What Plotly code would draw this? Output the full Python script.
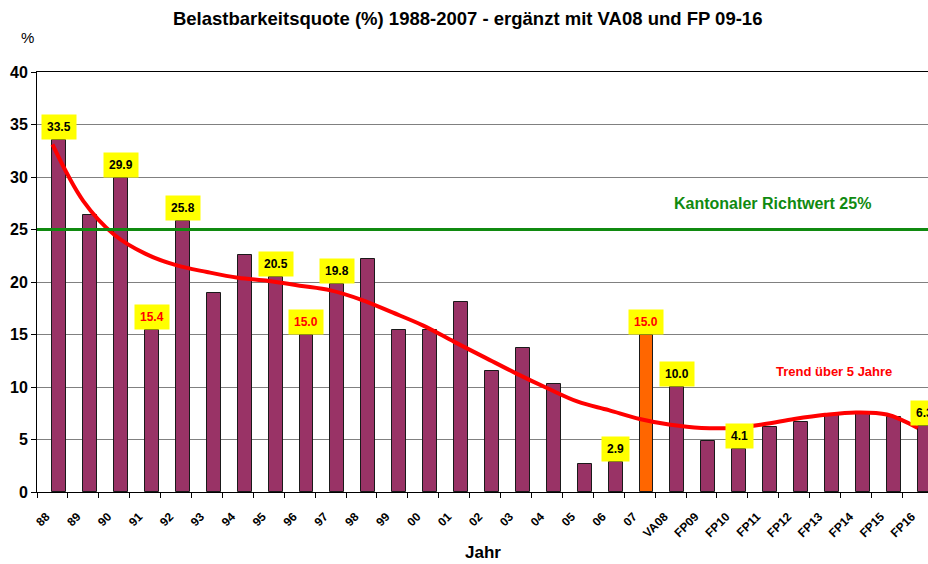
import plotly.graph_objects as go

# ---- data ----
categories = ['88', '89', '90', '91', '92', '93', '94', '95', '96', '97',
              '98', '99', '00', '01', '02', '03', '04', '05', '06', '07',
              'VA08', 'FP09', 'FP10', 'FP11', 'FP12', 'FP13', 'FP14', 'FP15', 'FP16']
values = [33.5, 26.4, 29.9, 15.4, 25.8, 19.0, 22.6, 20.5, 15.0, 19.8,
          22.2, 15.4, 15.4, 18.1, 11.5, 13.7, 10.3, 2.7, 2.9, 15.0,
          10.0, 4.9, 4.1, 6.2, 6.7, 7.4, 7.6, 7.1, 6.3]
trend = [33.1, 27.7, 24.5, 22.7, 21.6, 20.95, 20.4, 20.1, 19.65, 19.2,
         18.3, 17.1, 15.85, 14.3, 12.8, 11.3, 9.9, 8.6, 7.8, 6.95,
         6.4, 6.1, 6.1, 6.45, 6.95, 7.35, 7.58, 7.38, 6.1]
highlight_cat = '07'
labelled_black = ['88', '90', '92', '95', '97', '06', 'VA08', 'FP10', 'FP16']
labelled_red = ['91', '96', '07']
richtwert = 25
title_text = 'Belastbarkeitsquote (%) 1988-2007 - ergänzt mit VA08 und FP 09-16'

# ---- style ----
PURPLE = '#993366'
ORANGE = '#FF6600'
FONT = 'Liberation Sans, Arial, sans-serif'
BAR_OFFSET = 0.72
TREND_OFFSET = 0.5
n = len(categories)
idx = list(range(n))

bar_x = [i + BAR_OFFSET for i in idx]
colors = [ORANGE if c == highlight_cat else PURPLE for c in categories]

fig = go.Figure()
fig.add_trace(go.Bar(
    x=bar_x, y=values, width=0.45,
    marker=dict(color=colors, line=dict(color='#1a1a1a', width=1)),
    showlegend=False, hoverinfo='skip'))

fig.add_trace(go.Scatter(
    x=[i + TREND_OFFSET for i in idx], y=trend, mode='lines',
    line=dict(color='#FF0000', width=4, shape='spline', smoothing=1.0),
    showlegend=False, hoverinfo='skip'))

fig.add_shape(type='line', xref='paper', x0=0, x1=1, yref='y', y0=richtwert, y1=richtwert,
              line=dict(color='#108A10', width=3), layer='above')

annotations = []
for i, c in enumerate(categories):
    if c in labelled_black or c in labelled_red:
        annotations.append(dict(
            x=bar_x[i], y=values[i], xref='x', yref='y',
            text='%.1f' % values[i], showarrow=False,
            xanchor='center', yanchor='bottom',
            bgcolor='#FFFF00', borderpad=5,
            font=dict(family=FONT, size=12, weight='bold',
                      color='#FF0000' if c in labelled_red else '#000000')))

annotations += [
    dict(x=23.8, y=27.5, xref='x', yref='y', text='Kantonaler Richtwert 25%',
         showarrow=False, font=dict(family=FONT, size=16, weight='bold', color='#108A10')),
    dict(x=25.8, y=11.5, xref='x', yref='y', text='Trend über 5 Jahre',
         showarrow=False, font=dict(family=FONT, size=13, weight='bold', color='#FF0000')),
    dict(x=0.5, y=-0.143, xref='paper', yref='paper', text='Jahr',
         showarrow=False, yanchor='middle',
         font=dict(family=FONT, size=17, weight='bold', color='#000000')),
    dict(x=-0.02, y=1.083, xref='paper', yref='paper', text='%',
         showarrow=False, yanchor='middle',
         font=dict(family=FONT, size=15, color='#000000')),
]

fig.update_layout(
    width=928, height=564,
    margin=dict(l=37, r=0, t=72, b=72, autoexpand=False),
    paper_bgcolor='white', plot_bgcolor='white',
    title=dict(text=title_text, x=0.504, xref='container', xanchor='center',
               y=1 - 19 / 564, yref='container', yanchor='middle',
               font=dict(family=FONT, size=18.5, weight='bold', color='#000000')),
    annotations=annotations,
    bargap=0,
    xaxis=dict(range=[0, 28.83], tickmode='array', automargin=False,
               tickvals=[i + 0.3 for i in idx], ticktext=categories,
               tickangle=-45, ticks='outside', ticklen=12, tickcolor='rgba(0,0,0,0)',
               showgrid=False, zeroline=False,
               showline=True, linecolor='black', linewidth=1, mirror=True,
               tickfont=dict(family=FONT, size=12, weight='bold', color='#000000'),
               minor=dict(tickmode='array', tickvals=idx + [n], ticks='outside',
                          ticklen=5, tickcolor='black', showgrid=False)),
    yaxis=dict(range=[0, 40], dtick=5, ticks='outside', ticklen=5, tickcolor='black',
               automargin=False,
               showgrid=True, gridcolor='#808080', gridwidth=1, zeroline=False,
               showline=True, linecolor='black', linewidth=1,
               tickfont=dict(family=FONT, size=16, weight='bold', color='#000000')),
)

fig.write_html('out.html', config={'displayModeBar': False},
               post_script="document.body.style.margin='0';")
